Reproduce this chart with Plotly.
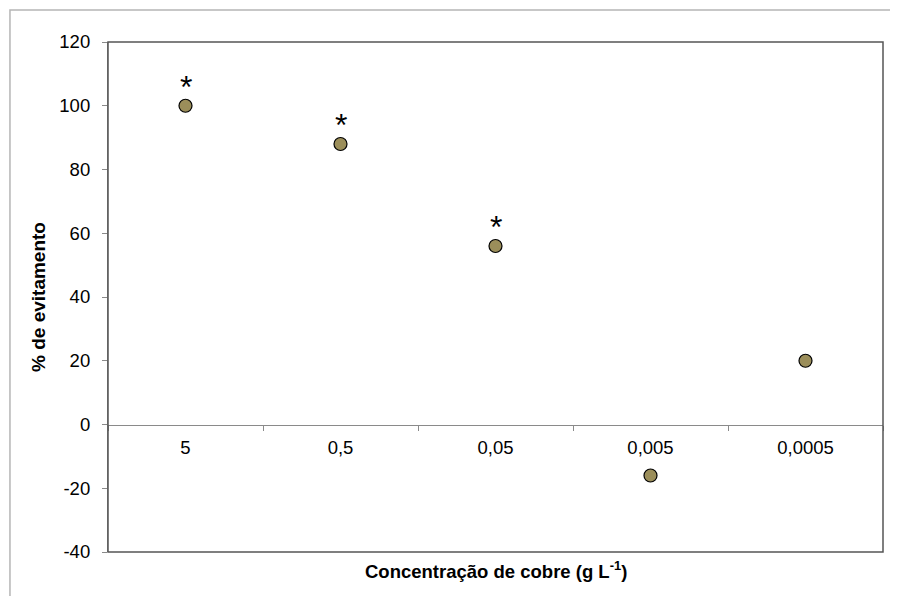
import plotly.graph_objects as go

categories = ["5", "0,5", "0,05", "0,005", "0,0005"]
avoidance = [100, 88, 56, -16, 20]
significant = [True, True, True, False, False]
y_tick_values = [-40, -20, 0, 20, 40, 60, 80, 100, 120]
y_tick_labels = ["-40", "-20", "0", "20", "40", "60", "80", "100", "120"]

FONT = "Arial, Liberation Sans, sans-serif"

fig = go.Figure()
fig.add_trace(go.Scatter(
    x=categories, y=avoidance, mode="markers",
    marker=dict(size=13, color="#9b8e5a", line=dict(color="#000000", width=1.2)),
    showlegend=False, hoverinfo="x+y",
))

for i, (v, s) in enumerate(zip(avoidance, significant)):
    if s:
        fig.add_annotation(x=i, y=v, text="*", showarrow=False, yshift=19,
                           font=dict(family=FONT, size=32, color="#000000"))

# plot frame
fig.add_shape(type="rect", xref="paper", yref="paper", x0=0, y0=0, x1=1, y1=1,
              line=dict(color="#555555", width=1.5), layer="above")
# outer chart border
fig.add_shape(type="rect", xref="paper", yref="paper", x0=-0.1265, y0=-0.2, x1=1.05, y1=1.0627,
              line=dict(color="#b5b5b5", width=1.5), layer="below")

fig.add_annotation(xref="paper", yref="paper", x=0.5, y=-0.036, yanchor="middle",
                   text="<b>Concentração de cobre (g L<sup>-1</sup>)</b>", showarrow=False,
                   font=dict(family=FONT, size=18.5, color="#000000"))

fig.update_layout(
    width=890, height=588,
    margin=dict(l=100, r=15, t=34, b=44),
    paper_bgcolor="white", plot_bgcolor="white",
    font=dict(family=FONT, size=18.5, color="#000000"),
    xaxis=dict(type="category", categoryorder="array", categoryarray=categories,
               range=[-0.5, 4.5], anchor="free", position=0.25,
               showline=True, linecolor="#8a8a8a", linewidth=1.2,
               ticks="outside", tickson="boundaries", ticklen=5, tickcolor="#8a8a8a",
               ticklabelstandoff=6,
               showgrid=False, zeroline=False, tickfont=dict(size=18.5)),
    yaxis=dict(range=[-40, 120], tickmode="array", tickvals=y_tick_values, ticktext=y_tick_labels,
               showgrid=False, zeroline=False,
               showline=True, linecolor="#8a8a8a", linewidth=1.2,
               ticks="outside", ticklen=5, tickcolor="#8a8a8a",
               ticklabelstandoff=8,
               tickfont=dict(size=18.5),
               title=dict(text="<b>% de evitamento</b>", standoff=8,
                          font=dict(family=FONT, size=19))),
)

fig.write_html("out.html")
